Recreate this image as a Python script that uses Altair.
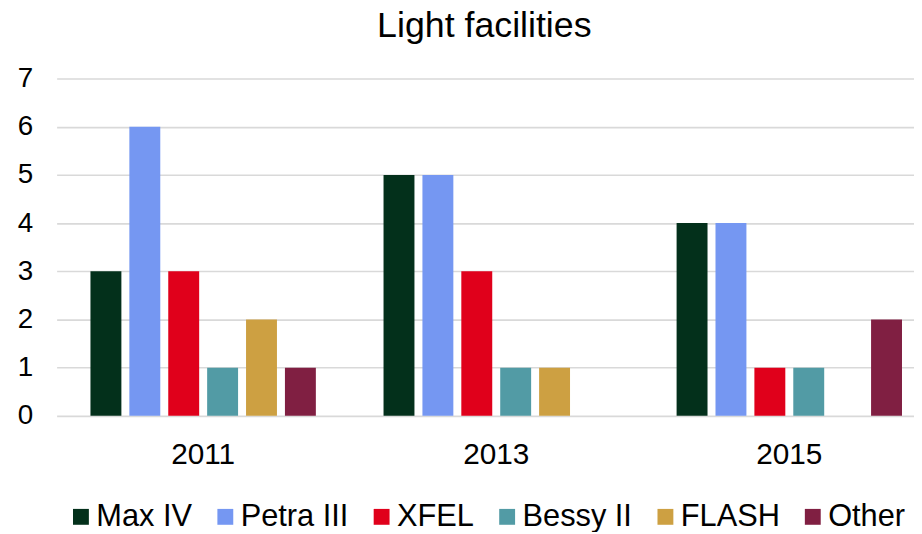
import altair as alt
import pandas as pd

years = ["2011", "2013", "2015"]
series = ["Max IV", "Petra III", "XFEL", "Bessy II", "FLASH", "Other"]
colors = ["#03301B", "#7597F2", "#E0001B", "#529BA5", "#CDA042", "#801F42"]

max_iv = [3, 5, 4]
petra_iii = [6, 5, 4]
xfel = [3, 3, 1]
bessy_ii = [1, 1, 1]
flash = [2, 1, 0]
other = [1, 0, 2]

rows = []
for name, vals in zip(series, [max_iv, petra_iii, xfel, bessy_ii, flash, other]):
    for yr, v in zip(years, vals):
        rows.append({"Year": yr, "Facility": name, "Count": v})
df = pd.DataFrame(rows)
df = df[df["Count"] > 0]

FONT = "Liberation Sans"

chart = alt.Chart(df).mark_bar().encode(
    x=alt.X(
        "Year:N",
        sort=years,
        scale=alt.Scale(domain=years, paddingInner=0, paddingOuter=0, range=[0, 886]),
        axis=alt.Axis(title=None, labelAngle=0, labelFontSize=30, labelPadding=24,
                      ticks=False, domain=False, grid=False, labelColor="#000000"),
    ),
    xOffset=alt.XOffset(
        "Facility:N",
        sort=series,
        scale=alt.Scale(domain=series, paddingInner=0.205, paddingOuter=0.87),
    ),
    y=alt.Y(
        "Count:Q",
        scale=alt.Scale(domain=[0, 7], nice=False),
        axis=alt.Axis(title=None, values=[0, 1, 2, 3, 4, 5, 6, 7], labelFontSize=28,
                      labelPadding=24, ticks=False, domain=False, labelColor="#000000",
                      gridColor="#d9d9d9", gridWidth=1.6),
    ),
    color=alt.Color(
        "Facility:N",
        sort=series,
        scale=alt.Scale(domain=series, range=colors),
        legend=alt.Legend(title=None, orient="none", direction="horizontal",
                          legendX=9, legendY=426, symbolType="square",
                          symbolSize=256, symbolStrokeWidth=0, symbolOpacity=1,
                          labelFontSize=31, labelOffset=0, columnPadding=17.5,
                          labelColor="#000000", columns=6),
    ),
).properties(
    width=864,
    height=340,
    title=alt.TitleParams("Light facilities", fontSize=36, fontWeight="normal",
                          color="#000000", anchor="middle", dx=-1, offset=20),
    autosize=alt.AutoSizeParams(type="none"),
    padding={"left": 49, "top": 69, "right": 0, "bottom": 115},
).configure(
    font=FONT,
).configure_view(
    stroke=None,
)

chart.save("out.html", embed_options={"renderer": "svg", "actions": False})
